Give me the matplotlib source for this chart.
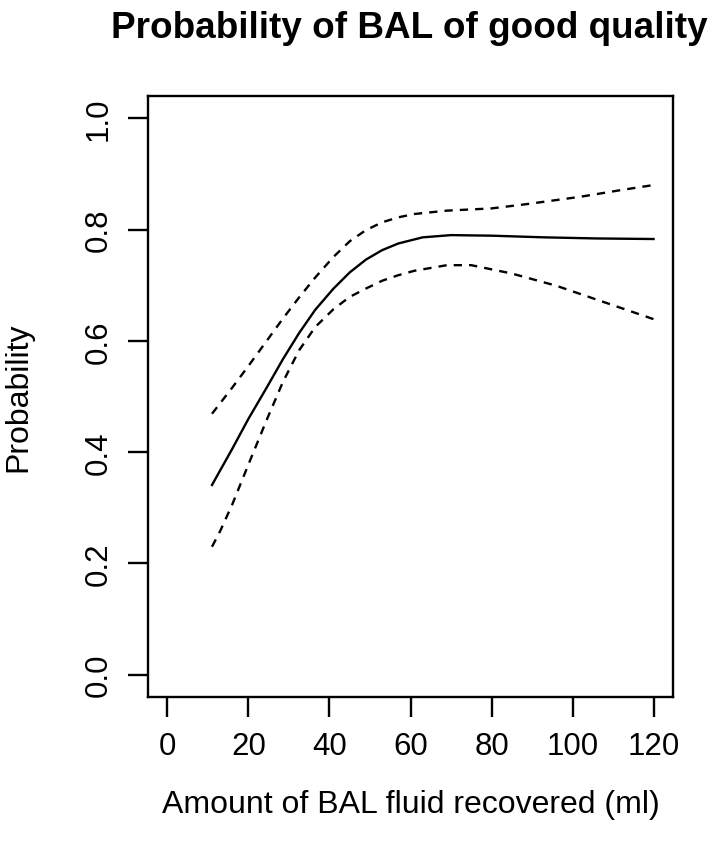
import numpy as np
import matplotlib
matplotlib.use("Agg")
import matplotlib.pyplot as plt

plt.rcParams['font.family'] = ['Liberation Sans', 'DejaVu Sans']

# ── Data ─────────────────────────────────────────────────────
fit_x = [11, 16, 20, 24.5, 28.5, 32.5, 36.5, 41, 45, 49, 53, 57, 63, 70, 80, 93, 106, 120]
fit_y = [0.341, 0.406, 0.46, 0.516, 0.567, 0.614, 0.656, 0.694, 0.723, 0.746,
         0.763, 0.775, 0.786, 0.790, 0.789, 0.786, 0.784, 0.783]

upper_x = [11, 16, 20, 24.5, 28.5, 32.5, 36.5, 41, 45, 49, 53, 57, 61, 69, 80, 89, 102, 112, 120]
upper_y = [0.469, 0.516, 0.555, 0.600, 0.640, 0.678, 0.714, 0.751, 0.779, 0.799,
           0.813, 0.822, 0.828, 0.834, 0.838, 0.846, 0.859, 0.871, 0.880]

lower_x = [11, 13, 16, 20, 24.5, 28.5, 32.5, 36.5, 41, 45, 49, 53, 57, 61, 69, 75, 85, 96, 108, 120]
lower_y = [0.23, 0.258, 0.306, 0.378, 0.458, 0.526, 0.583, 0.625, 0.657, 0.679,
           0.694, 0.708, 0.718, 0.726, 0.736, 0.736, 0.721, 0.699, 0.669, 0.639]

x_ticks = [0, 20, 40, 60, 80, 100, 120]
y_ticks = [0.0, 0.2, 0.4, 0.6, 0.8, 1.0]
y_ticklabels = ["0.0", "0.2", "0.4", "0.6", "0.8", "1.0"]

# ── Plot ─────────────────────────────────────────────────────
W, H = 711, 853
fig = plt.figure(figsize=(W / 100, H / 100), dpi=100)
left, right, top, bottom = 148, 673, 97, 698
ax = fig.add_axes([left / W, 1 - bottom / H, (right - left) / W, (bottom - top) / H])

ax.plot(fit_x, fit_y, color='black', lw=1.7)
ax.plot(upper_x, upper_y, color='black', lw=1.7, dashes=(3.5, 3))
ax.plot(lower_x, lower_y, color='black', lw=1.7, dashes=(3.5, 3))

ax.set_xlim(-4.8, 124.8)
ax.set_ylim(-0.04, 1.04)
ax.set_xticks(x_ticks)
ax.set_yticks(y_ticks)
ax.set_yticklabels(y_ticklabels, rotation=90, va='center')

for s in ax.spines.values():
    s.set_linewidth(1.7)
ax.tick_params(length=14.4, width=1.7, labelsize=22.5, direction='out')
ax.tick_params(axis='x', pad=10)
ax.tick_params(axis='y', pad=10)

ax.set_xlabel('Amount of BAL fluid recovered (ml)', fontsize=23, va='center')
ax.xaxis.set_label_coords(0.5, (bottom - 805) / (bottom - top))
ax.set_ylabel('Probability', fontsize=23, va='center')
ax.yaxis.set_label_coords((18 - left) / (right - left), 0.5)

fig.text(409 / W, 1 - 29 / H, 'Probability of BAL of good quality',
         ha='center', va='center', fontsize=26.6, fontweight='bold')

fig.savefig('out.png', dpi=100)
